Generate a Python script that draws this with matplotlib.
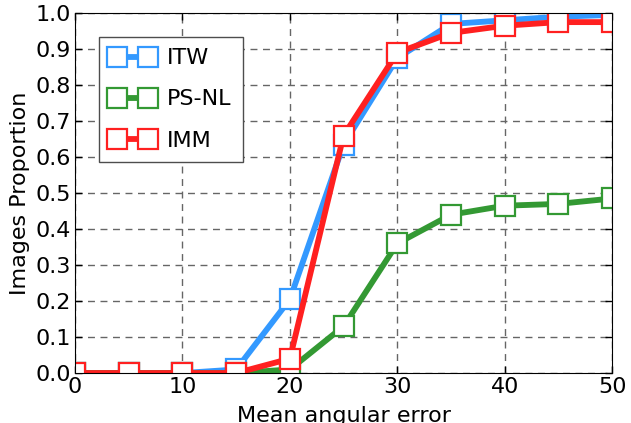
import matplotlib
matplotlib.use("Agg")
import matplotlib.pyplot as plt

x = [0, 5, 10, 15, 20, 25, 30, 35, 40, 45, 50]
itw = [0.0, 0.0, 0.0, 0.01, 0.205, 0.635, 0.875, 0.97, 0.98, 0.99, 0.995]
psnl = [0.0, 0.0, 0.0, 0.0, 0.01, 0.13, 0.36, 0.44, 0.465, 0.47, 0.485]
imm = [0.0, 0.0, 0.0, 0.0, 0.04, 0.66, 0.89, 0.945, 0.965, 0.975, 0.975]

names = ["ITW", "PS-NL", "IMM"]
colors = ["#3399ff", "#339933", "#ff2020"]

plt.rcParams["font.size"] = 16
plt.rcParams["xtick.direction"] = "in"
plt.rcParams["ytick.direction"] = "in"

fig = plt.figure(figsize=(6.31, 4.23), dpi=100)
ax = fig.add_axes([0.119, 0.118, 0.851, 0.851])

for y, name, c in zip([itw, psnl, imm], names, colors):
    ax.plot(x, y, color=c, lw=4.2, marker="s", markersize=15,
            markerfacecolor="white", markeredgecolor=c, markeredgewidth=1.6,
            label=name)

ax.set_xlim(0, 50)
ax.set_ylim(0, 1)
ax.set_yticks([i / 10 for i in range(11)])
ax.tick_params(top=True, right=True, length=5, width=1, pad=3)
ax.grid(True, linestyle=(0, (5, 4)), color="0.4", lw=1)
ax.set_xlabel("Mean angular error", labelpad=6)
ax.set_ylabel("Images Proportion", labelpad=4)
ax.legend(loc="upper left", numpoints=2, fancybox=False, edgecolor="0.3",
          bbox_to_anchor=(0.045, 0.933), borderaxespad=0, handlelength=2.0,
          labelspacing=0.95, borderpad=0.5, handletextpad=0.55, framealpha=1)

fig.savefig("out.png", dpi=100)
